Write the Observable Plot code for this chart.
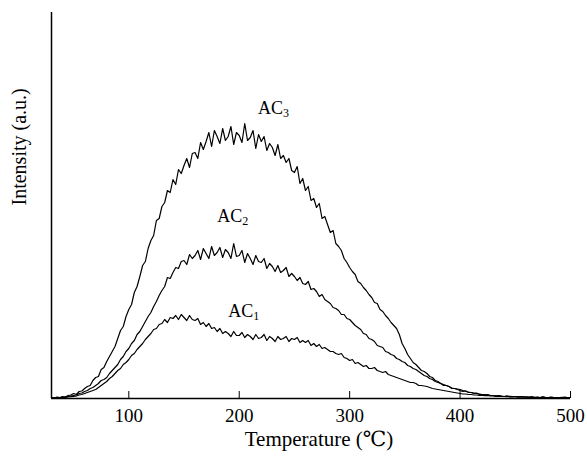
<!DOCTYPE html>
<html><head><meta charset="utf-8">
<script src="https://cdn.jsdelivr.net/npm/d3@7"></script>
<script src="https://cdn.jsdelivr.net/npm/@observablehq/plot@0.6"></script>
<style>body{margin:0;background:#fff}</style>
</head><body><div id="chart"></div>
<script>
// Temperature grid (°C), one reading every 2.5 °C from 30 to 500
const temps = d3.range(30, 500.01, 2.5);

// Intensity (a.u.), one row per 10 °C
const ac3 = [
  1, 0.5, 1.5, 1,
  2, 1.5, 3, 3.5,
  5, 4, 7, 7.5,
  10, 12, 13, 18,
  21, 22, 29, 31,
  37, 42, 47, 52,
  60, 68, 72, 82,
  89, 94, 106, 112,
  122, 133, 137, 150,
  158, 163, 178, 180,
  192, 196, 208, 206,
  219, 214, 229, 225,
  233, 240, 231, 245,
  246, 240, 256, 249,
  257, 266, 252, 268,
  262, 255, 270, 258,
  262, 272, 254, 266,
  263, 256, 275, 258,
  261, 268, 250, 264,
  257, 262, 248, 255,
  251, 243, 254, 240,
  243, 236, 240, 228,
  226, 232, 215, 220,
  208, 212, 198, 200,
  191, 195, 180, 182,
  174, 166, 168, 155,
  152, 148, 140, 136,
  131, 127, 124, 117,
  115, 111, 108, 104,
  101, 96, 95, 89,
  87, 83, 80, 76,
  73, 70, 64, 55,
  50, 44, 40, 36,
  34, 31, 28, 27,
  25, 22, 21, 18,
  17, 15, 14, 13,
  12, 10, 10, 9,
  8, 7, 7.5, 6,
  6, 5, 5.5, 4,
  4, 3.5, 4, 3,
  3, 2.5, 3, 2.5,
  2, 2.5, 1.5, 2,
  2, 1.5, 2, 1.5,
  1.5, 1, 1.5, 1,
  1.2, 1, 1.5, 0.8,
  1, 1.2, 0.8, 1,
  1, 0.8, 1.2, 1,
  1
];

const ac2 = [
  0.5, 0.8, 0.5, 1,
  1, 1.5, 2, 2.5,
  3, 3.5, 5, 5.5,
  7, 8, 10, 11,
  13, 15, 18, 19,
  21, 25, 28, 31,
  34, 39, 42, 47,
  50, 55, 58, 64,
  67, 72, 77, 82,
  86, 92, 97, 103,
  108, 112, 121, 120,
  126, 131, 130, 137,
  138, 134, 144, 140,
  143, 148, 139, 150,
  145, 140, 152, 143,
  146, 151, 141, 149,
  146, 140, 155, 142,
  143, 148, 136, 145,
  140, 134, 143, 137,
  136, 140, 130, 135,
  132, 127, 133, 126,
  128, 131, 122, 125,
  122, 118, 121, 115,
  114, 117, 109, 110,
  107, 102, 104, 99,
  97, 95, 91, 90,
  88, 84, 84, 80,
  79, 76, 73, 71,
  69, 65, 64, 60,
  59, 57, 53, 52,
  51, 47, 46, 44,
  43, 40, 39, 37,
  36, 33, 32, 30,
  29, 27, 25, 23,
  22, 20, 19, 17,
  16, 15, 13, 13,
  12, 10.5, 10, 9.5,
  9, 8, 7.5, 6.5,
  6, 5.5, 5, 4.5,
  4, 4, 3.5, 3,
  3, 2.5, 3, 2,
  2, 2.5, 2, 1.5,
  2, 1.5, 1.8, 1.5,
  1.5, 1.2, 1.5, 1,
  1.2, 1, 1.3, 0.9,
  1, 1.2, 0.9, 1,
  1, 1.1, 0.8, 1,
  1
];

const ac1 = [
  0.5, 0.3, 0.8, 0.6,
  1, 1.2, 1.5, 1.8,
  2, 2.5, 3.5, 4,
  5, 6, 7, 8,
  9, 11, 13, 15,
  17, 20, 22, 25,
  28, 30, 34, 36,
  39, 43, 45, 49,
  52, 55, 59, 62,
  65, 69, 70, 74,
  75, 79, 76, 81,
  80, 83, 79, 84,
  81, 78, 83, 79,
  78, 80, 74, 76,
  72, 75, 70, 71,
  67, 70, 65, 67,
  65, 62, 67, 63,
  63, 66, 61, 64,
  62, 59, 64, 60,
  61, 64, 58, 62,
  60, 57, 62, 59,
  60, 62, 57, 60,
  59, 61, 56, 58,
  56, 58, 53, 55,
  52, 54, 50, 51,
  49, 47, 47, 45,
  44, 45, 41, 40,
  38, 39, 35, 36,
  34, 32, 33, 30,
  30, 31, 28, 27,
  26, 27, 24, 23,
  22, 21, 20, 19,
  18, 17, 16, 16,
  15, 13, 13, 12.5,
  12, 11, 10, 9.5,
  9, 8.5, 8, 7.5,
  7, 6.5, 6, 5.5,
  5, 4.5, 4.5, 4,
  4, 3.5, 3.5, 3,
  3, 2.8, 3, 2.5,
  2.5, 2.2, 2.4, 2,
  2, 1.8, 2.2, 1.8,
  1.8, 1.6, 1.9, 1.5,
  1.5, 1.3, 1.6, 1.2,
  1.2, 1, 1.3, 1,
  1, 1.1, 0.9, 1,
  1, 0.9, 1.1, 1,
  1
];

const seriesNames = ["AC1", "AC2", "AC3"];
const xTicks = [100, 200, 300, 400, 500];
const labelMain = ["AC", "AC", "AC"];
const labelSub = ["1", "2", "3"];
const labelT = [190, 180, 217];
const labelI = [87, 182, 290];

const rows = [];
[ac1, ac2, ac3].forEach((vals, k) =>
  vals.forEach((v, i) => rows.push({series: seriesNames[k], T: temps[i], I: v})));
const labels = labelMain.map((m, i) => ({main: m, sub: labelSub[i], T: labelT[i], I: labelI[i]}));

const serif = "'Liberation Serif', 'Times New Roman', 'DejaVu Serif', serif";

const chart = Plot.plot({
  width: 587,
  height: 459,
  marginLeft: 51,
  marginRight: 17,
  marginTop: 12,
  marginBottom: 61,
  style: {fontFamily: serif, fontSize: "19px", color: "#000", background: "#fff"},
  x: {domain: [30, 500]},
  y: {domain: [0, 386], axis: null},
  marks: [
    Plot.line(rows, {x: "T", y: "I", z: "series", stroke: "#000", strokeWidth: 1.2}),
    Plot.ruleX([30], {stroke: "#000", strokeWidth: 1.5}),
    Plot.ruleY([0], {stroke: "#000", strokeWidth: 1.5}),
    Plot.ruleX(xTicks, {y1: 0, y2: 7, stroke: "#000", strokeWidth: 1}),
    Plot.axisX(xTicks, {tickSize: 0, tickPadding: 10, fontSize: 19, label: null}),
    Plot.text(["Temperature (℃)"], {text: d => d, frameAnchor: "bottom", dy: 47, dx: 8, fontSize: 21}),
    Plot.text(["Intensity (a.u.)"], {text: d => d, frameAnchor: "left", rotate: -90, dx: -32, fontSize: 20}),
    Plot.text(labels, {x: "T", y: "I", text: "main", textAnchor: "start", fontSize: 18}),
    Plot.text(labels, {x: "T", y: "I", text: "sub", textAnchor: "start", dx: 25, dy: 5, fontSize: 12})
  ]
});
document.getElementById("chart").appendChild(chart);
</script>
</body></html>
